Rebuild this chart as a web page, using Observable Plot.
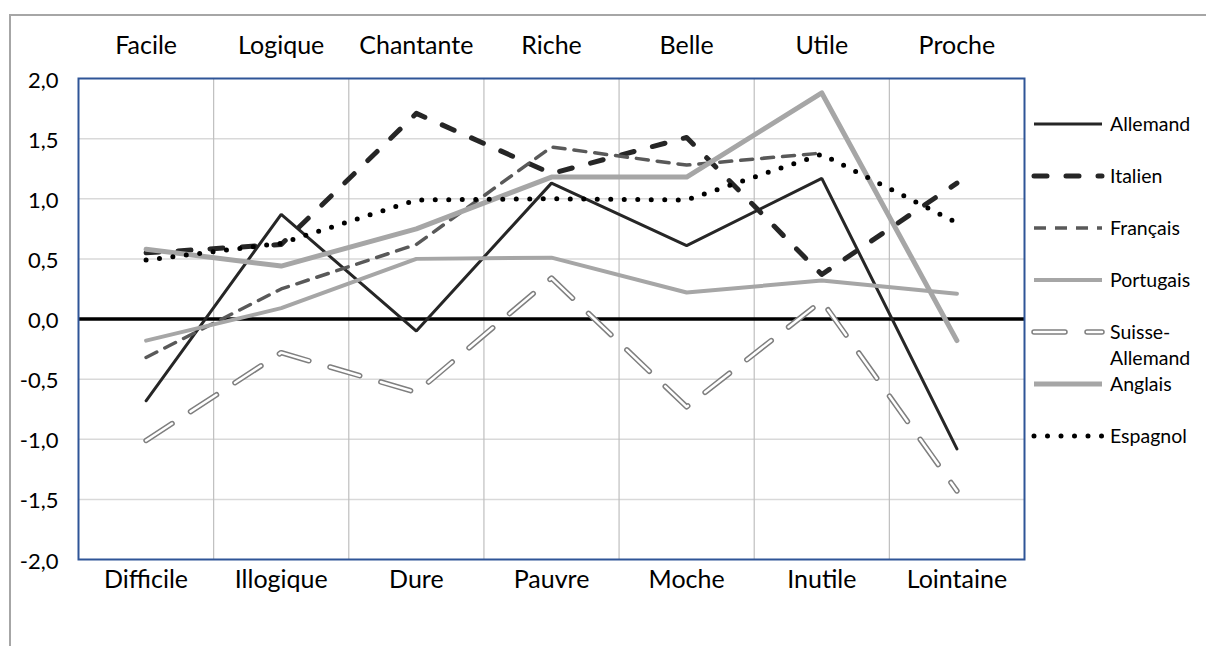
<!DOCTYPE html>
<html>
<head>
<meta charset="utf-8">
<script src="https://cdn.jsdelivr.net/npm/d3@7"></script>
<script src="https://cdn.jsdelivr.net/npm/@observablehq/plot@0.6"></script>
<style>
  html, body { margin: 0; padding: 0; background: #fff; }
  #wrap { position: relative; width: 1206px; height: 646px; overflow: hidden; font-family: Lato, "Noto Sans", sans-serif; }
  #border { position: absolute; left: 9px; top: 14px; width: 1300px; height: 800px; border-left: 2px solid #A6A6A6; border-top: 2px solid #A6A6A6; pointer-events: none; }
  #chart { position: absolute; left: 0; top: 0; }
  #legend { position: absolute; left: 1030px; top: 0; }
  .item { position: absolute; left: 0; height: 30px; width: 176px; }
  .item svg { position: absolute; left: 0; top: 0; }
  .item span { position: absolute; left: 80px; font-size: 19.5px; line-height: 26px; color: #000; white-space: nowrap; }
</style>
</head>
<body>
<div id="wrap">
  <div id="chart"></div>
  <div id="legend"></div>
  <div id="border"></div>
</div>
<script>
// ---- data ----
const topLabels = ["Facile", "Logique", "Chantante", "Riche", "Belle", "Utile", "Proche"];
const bottomLabels = ["Difficile", "Illogique", "Dure", "Pauvre", "Moche", "Inutile", "Lointaine"];
const seriesNames = ["Allemand", "Italien", "Français", "Portugais", "Suisse-Allemand", "Anglais", "Espagnol"];
const allemand       = [-0.68, 0.87, -0.10, 1.13, 0.61, 1.17, -1.08];
const italien        = [0.55, 0.62, 1.71, 1.21, 1.51, 0.37, 1.13];
const francais       = [-0.32, 0.25, 0.62, 1.43, 1.28, 1.38, null];
const portugais      = [-0.18, 0.09, 0.50, 0.51, 0.22, 0.32, 0.21];
const suisseAllemand = [-1.01, -0.28, -0.61, 0.34, -0.73, 0.15, -1.43];
const anglais        = [0.58, 0.44, 0.75, 1.18, 1.18, 1.88, -0.18];
const espagnol       = [0.49, 0.63, 0.99, 1.00, 0.99, 1.37, 0.80];
const yTicks = [-2, -1.5, -1, -0.5, 0, 0.5, 1, 1.5, 2];

const seriesValues = [allemand, italien, francais, portugais, suisseAllemand, anglais, espagnol];

// ---- styles ----
const styles = {
  "Allemand":        [{stroke: "#262626", strokeWidth: 3, strokeLinejoin: "miter"}],
  "Italien":         [{stroke: "#262626", strokeWidth: 5, strokeDasharray: "13,19", strokeLinecap: "round"}],
  "Français":        [{stroke: "#595959", strokeWidth: 3.5, strokeDasharray: "12,9"}],
  "Portugais":       [{stroke: "#A6A6A6", strokeWidth: 4}],
  "Suisse-Allemand": [{stroke: "#7F7F7F", strokeWidth: 5.5, strokeDasharray: "31,22", strokeLinecap: "round"},
                      {stroke: "#FFFFFF", strokeWidth: 2.5, strokeDasharray: "31,22", strokeLinecap: "round"}],
  "Anglais":         [{stroke: "#A6A6A6", strokeWidth: 5}],
  "Espagnol":        [{stroke: "#000000", strokeWidth: 5, strokeDasharray: "0,13.5", strokeLinecap: "round"}]
};

const rows = [];
seriesNames.forEach((s, k) => seriesValues[k].forEach((v, i) => rows.push({series: s, i, v})));

const fmt = d => (d < 0 ? "-" : "") + Math.abs(d).toFixed(1).replace(".", ",");
const boundaries = d3.range(0.5, topLabels.length - 1, 1);

const lineMarks = [];
for (const s of seriesNames) {
  for (const st of styles[s]) {
    lineMarks.push(Plot.line(rows.filter(r => r.series === s), {
      x: "i", y: "v", curve: "linear", defined: d => d.v != null, ...st
    }));
  }
}

const chart = Plot.plot({
  width: 1206,
  height: 646,
  marginLeft: 78,
  marginRight: 182,
  marginTop: 78,
  marginBottom: 87,
  style: {fontFamily: "Lato, 'Noto Sans', sans-serif", color: "#000", background: "transparent"},
  x: {domain: [-0.5, topLabels.length - 0.5], axis: null, label: null},
  y: {domain: [-2, 2], axis: null, label: null},
  marks: [
    Plot.ruleY(yTicks.filter(d => d !== 0 && Math.abs(d) < 2), {stroke: "#D9D9D9", strokeWidth: 1.5}),
    Plot.ruleX(boundaries, {stroke: "#BFBFBF", strokeWidth: 1.2}),
    Plot.ruleY([0], {stroke: "#000", strokeWidth: 3.5}),
    ...lineMarks,
    Plot.frame({stroke: "#2F5597", strokeWidth: 2}),
    Plot.axisX({anchor: "top", ticks: d3.range(topLabels.length), tickFormat: i => topLabels[i],
                tickSize: 0, tickPadding: 25, fontSize: 25, color: "#000", label: null}),
    Plot.axisX({anchor: "bottom", ticks: d3.range(bottomLabels.length), tickFormat: i => bottomLabels[i],
                tickSize: 0, tickPadding: 11, fontSize: 25, color: "#000", label: null}),
    Plot.axisY({anchor: "left", ticks: yTicks, tickFormat: fmt, tickSize: 0, tickPadding: 20, fontSize: 22,
                color: "#000", label: null, dy: 2})
  ]
});
document.getElementById("chart").appendChild(chart);

// ---- legend (HTML) ----
const legend = document.getElementById("legend");
const legendLabels = {"Suisse-Allemand": "Suisse-<br>Allemand"};
seriesNames.forEach((s, k) => {
  const cy = 124 + 52 * k;
  const item = document.createElement("div");
  item.className = "item";
  item.style.top = (cy - 13) + "px";
  const svg = d3.create("svg").attr("width", 76).attr("height", 26);
  for (const st of styles[s]) {
    const ln = svg.append("line").attr("x1", 4).attr("x2", 72).attr("y1", 13).attr("y2", 13)
      .attr("stroke", st.stroke).attr("stroke-width", st.strokeWidth)
      .attr("stroke-linecap", st.strokeLinecap || "butt");
    if (st.strokeDasharray) ln.attr("stroke-dasharray", st.strokeDasharray);
  }
  item.appendChild(svg.node());
  const span = document.createElement("span");
  span.innerHTML = legendLabels[s] || s;
  item.appendChild(span);
  legend.appendChild(item);
});
</script>
</body>
</html>
